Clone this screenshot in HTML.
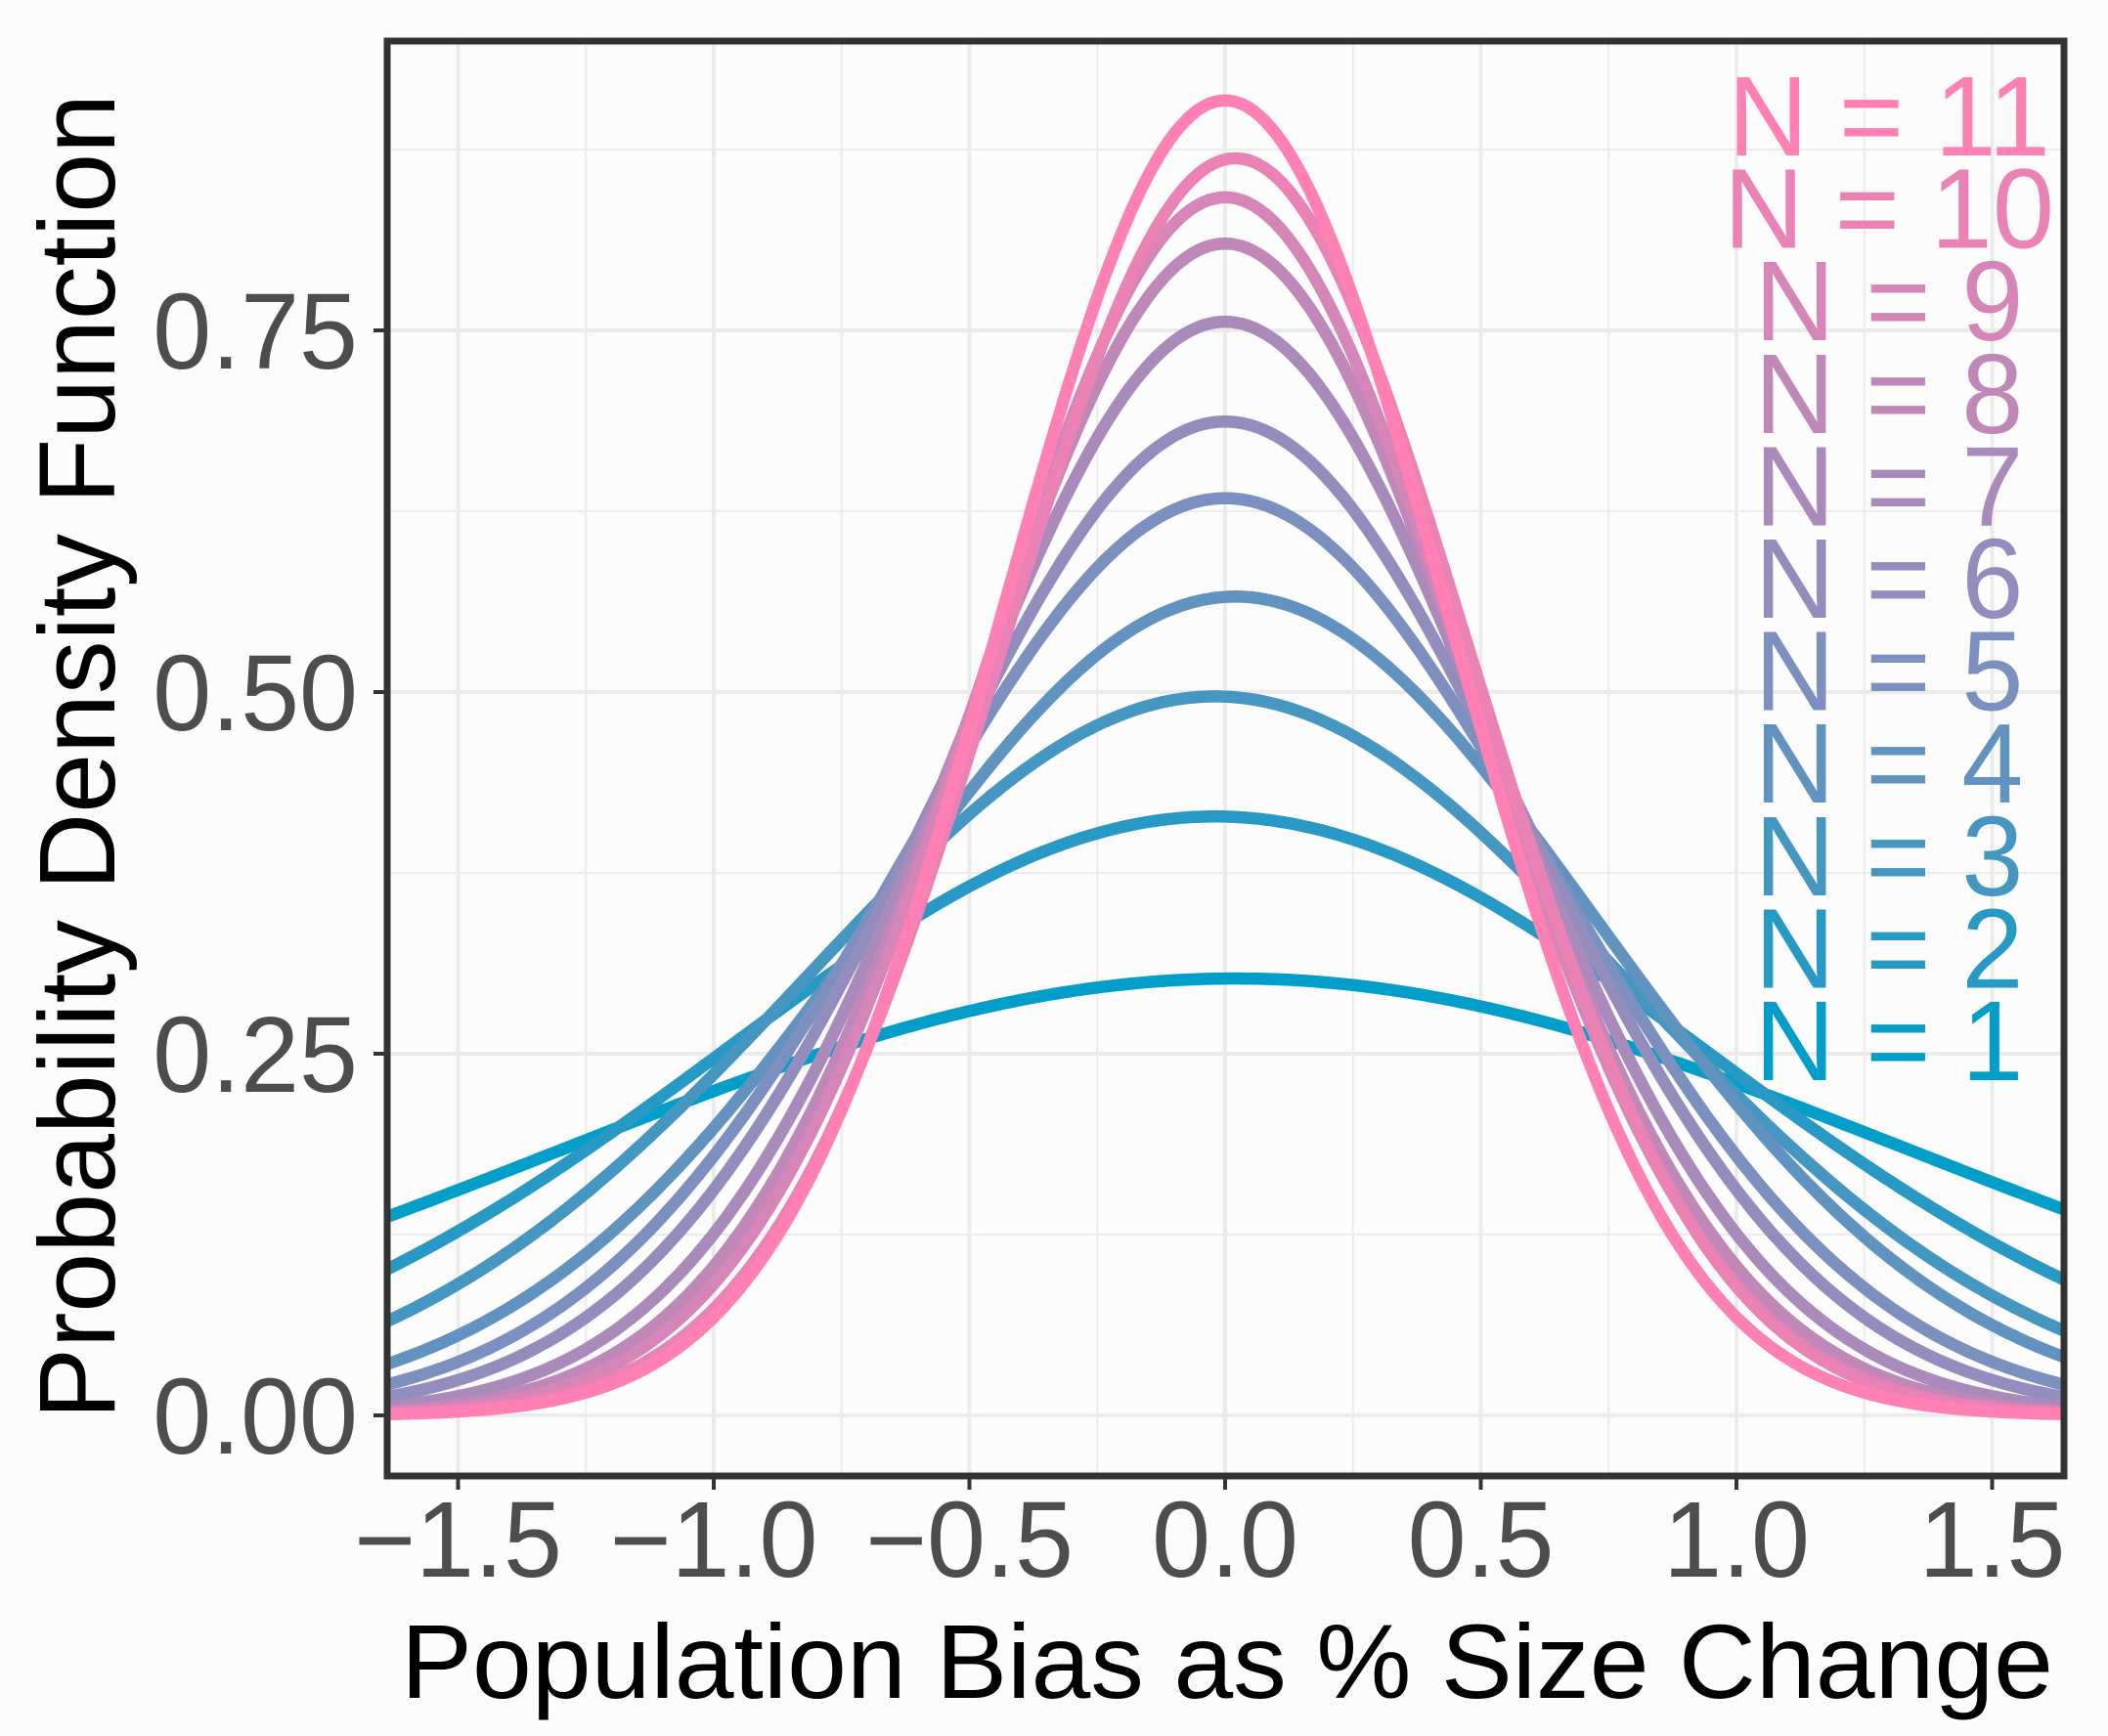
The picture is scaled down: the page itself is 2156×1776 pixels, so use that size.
<!DOCTYPE html>
<html><head><meta charset="utf-8"><style>
html,body{margin:0;padding:0;background:#fcfcfc;}
svg{display:block;}
text{font-family:"Liberation Sans",sans-serif;}
</style></head><body>
<svg id="chart" width="2156" height="1776" viewBox="0 0 2156 1776" xmlns="http://www.w3.org/2000/svg">
<rect x="0" y="0" width="2156" height="1776" fill="#fcfcfc"/>
<g id="grid"></g>
<g id="curves"></g>
<g id="legend"></g>
<g id="axes"></g>
<text x="1255" y="1737" font-size="108" text-anchor="middle" fill="#000" textLength="1690" lengthAdjust="spacingAndGlyphs">Population Bias as % Size Change</text>
<text x="0" y="0" font-size="110" text-anchor="middle" fill="#000" textLength="1356" lengthAdjust="spacingAndGlyphs" transform="translate(117,774) rotate(-90)">Probability Density Function</text>
</svg>
<script>
const seriesLabels = ["N = 1","N = 2","N = 3","N = 4","N = 5","N = 6","N = 7","N = 8","N = 9","N = 10","N = 11"];
const peakValues = [0.302,0.414,0.497,0.566,0.634,0.687,0.756,0.810,0.842,0.869,0.909];
const meanValues = [0.02,-0.02,-0.02,0.02,0.0,0.0,0.0,0.0,0.0,0.02,0.0];
const xTicks = [-1.5,-1.0,-0.5,0.0,0.5,1.0,1.5];
const xTickLabels = ["\u22121.5","\u22121.0","\u22120.5","0.0","0.5","1.0","1.5"];
const yTicks = [0,0.25,0.5,0.75];
const yTickLabels = ["0.00","0.25","0.50","0.75"];

const NS="http://www.w3.org/2000/svg";
const L=396,R=2111,T=42,B=1510;
const X0=1253,XS=523, Y0=1448, YS=1480;
function sx(v){return X0+v*XS;}
function sy(v){return Y0-v*YS;}
function mk(tag,attrs,parent){const e=document.createElementNS(NS,tag);for(const k in attrs)e.setAttribute(k,attrs[k]);parent.appendChild(e);return e;}
const xmin=(L-X0)/XS, xmax=(R-X0)/XS;

const grid=document.getElementById('grid');
const panel=mk('rect',{x:L,y:T,width:R-L,height:B-T,fill:'#fcfcfc'},grid);


for(let v=-1.75;v<=1.76;v+=0.25){
  const p=sx(v); if(p<=L||p>=R) continue;
  const major=Math.abs(v*2-Math.round(v*2))<1e-6;
  const ln=mk('line',{x1:p,x2:p,y1:T,y2:B,stroke:'#ebebeb','stroke-width':major?4:2},grid);
  
  
}
for(let v=-0.125;v<=1.0;v+=0.125){
  const p=sy(v); if(p<=T||p>=B) continue;
  const major=Math.abs(v*4-Math.round(v*4))<1e-6;
  const ln=mk('line',{x1:L,x2:R,y1:p,y2:p,stroke:'#ebebeb','stroke-width':major?4:2},grid);
  
  
}

const c1=[0,158,200], c2=[255,128,180];
function col(i){const t=Math.pow(i/(seriesLabels.length-1),0.8);return 'rgb('+c1.map((c,k)=>Math.round(c+(c2[k]-c)*t)).join(',')+')';}

const curves=document.getElementById('curves');
const defs=mk('defs',{},curves);
const cp=mk('clipPath',{id:'clip'},defs);
mk('rect',{x:L,y:T,width:R-L,height:B-T},cp);
const cg=mk('g',{'clip-path':'url(#clip)'},curves);
peakValues.forEach((pk,i)=>{
  const sd=1/(pk*Math.sqrt(2*Math.PI));
  let d='';
  for(let k=0;k<=300;k++){
    const x=xmin+(xmax-xmin)*k/300;
    const y=pk*Math.exp(-((x-meanValues[i])**2)/(2*sd*sd));
    d+=(k?'L':'M')+sx(x).toFixed(1)+','+sy(y).toFixed(1);
  }
  const p=mk('path',{d:d,fill:'none',stroke:col(i),'stroke-width':12.5,'stroke-linejoin':'round'},cg);
  
  
});

const legend=document.getElementById('legend');
seriesLabels.forEach((lab,i)=>{
  const t=mk('text',{x:0,y:0,'font-size':116,'text-anchor':'middle',fill:col(i),transform:'translate(1932,'+(1105-i*94.6)+') scale(0.98,1)'},legend);
  t.textContent=lab;
  
  
});

const axes=document.getElementById('axes');
const border=mk('rect',{x:L,y:T,width:R-L,height:B-T,fill:'none',stroke:'#333','stroke-width':7},axes);


xTicks.forEach((v,i)=>{
  const p=sx(v);
  const tk=mk('line',{x1:p,x2:p,y1:B,y2:B+14,stroke:'#333','stroke-width':4},axes);
  
  
  const t=mk('text',{x:0,y:0,'font-size':110,'text-anchor':'middle',fill:'#4d4d4d',transform:'translate('+p+',1613) scale(0.98,1)'},axes);
  t.textContent=xTickLabels[i];
  
  
});
yTicks.forEach((v,i)=>{
  const p=sy(v);
  const tk=mk('line',{x1:L-14,x2:L,y1:p,y2:p,stroke:'#333','stroke-width':4},axes);
  
  
  const t=mk('text',{x:0,y:0,'font-size':110,'text-anchor':'end',fill:'#4d4d4d',transform:'translate(366,'+(p+39)+') scale(0.98,1)'},axes);
  t.textContent=yTickLabels[i];
  
  
});
</script>
</body></html>
